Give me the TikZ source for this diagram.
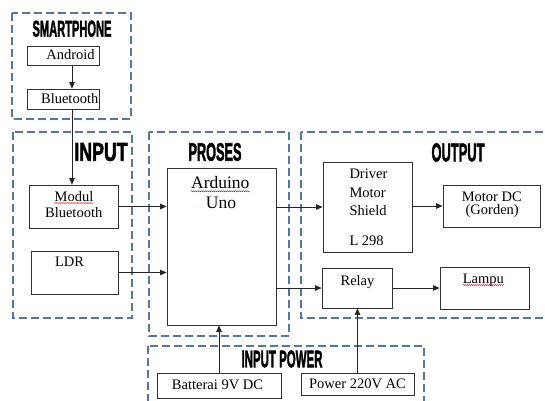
\documentclass[tikz,border=0pt]{standalone}
\usepackage{fontspec}
\setmainfont{Liberation Serif}
\newfontfamily\titlefont[FakeBold=2.5]{Liberation Sans Bold}
\usepackage{graphicx}
\usetikzlibrary{arrows.meta,decorations.pathmorphing}
\definecolor{dashblue}{RGB}{86,118,162}
\tikzset{
  grp/.style={draw=dashblue, line width=1.2pt, dash pattern=on 8pt off 4pt},
  blk/.style={draw=black!80, line width=0.8pt, rectangle, inner sep=0pt},
  txt/.style={font=\fontsize{14.5}{16}\selectfont, inner sep=0pt, anchor=base},
  bigtxt/.style={font=\fontsize{17.5}{20}\selectfont, inner sep=0pt, anchor=base},
  ttl/.style={inner sep=0pt, anchor=center},
  conn/.style={draw=black!85, line width=0.8pt, -{Triangle[length=6.5pt,width=5.5pt]}},
  squig/.style={draw=red, line width=0.4pt, decorate, decoration={snake, segment length=2pt, amplitude=0.6pt}}
}
\begin{document}
\begin{tikzpicture}[x=1pt,y=-1pt]
\useasboundingbox (0,0) rectangle (545,400);

% group frames
\draw[grp] (12,13) rectangle (131,119);
\draw[grp] (13,132) rectangle (132,318);
\draw[grp] (149,132) rectangle (289,336);
\draw[grp] (301,132) rectangle (548,318);
\draw[grp] (148,346) rectangle (424,405);

% titles
\node[ttl] (tsp) at (72,28.7) {\resizebox{79pt}{16pt}{\titlefont SMARTPHONE}};
\node[ttl] (tin) at (101,152) {\resizebox{53pt}{17.7pt}{\titlefont INPUT}};
\node[ttl] (tpr) at (215,152) {\resizebox{53pt}{17.7pt}{\titlefont PROSES}};
\node[ttl] (tout) at (458,152.5) {\resizebox{53pt}{18pt}{\titlefont OUTPUT}};
\node[ttl] (tip) at (282,359) {\resizebox{81pt}{16.7pt}{\titlefont INPUT POWER}};

% blocks
\node[blk, minimum width=72pt, minimum height=19pt] (an) at (63,55.5) {};
\node[blk, minimum width=72pt, minimum height=20pt] (bt) at (63,99) {};
\node[blk, minimum width=89pt, minimum height=43pt] (mb) at (73.5,206.5) {};
\node[blk, minimum width=87pt, minimum height=43pt] (ldr) at (74.5,272.5) {};
\node[blk, minimum width=109pt, minimum height=157pt] (ard) at (221.5,246.5) {};
\node[blk, minimum width=89pt, minimum height=90pt] (drv) at (367.5,207) {};
\node[blk, minimum width=97pt, minimum height=42pt] (mot) at (491.5,206) {};
\node[blk, minimum width=70pt, minimum height=40pt] (rel) at (357,288) {};
\node[blk, minimum width=89pt, minimum height=42pt] (lam) at (484.5,288) {};
\node[blk, minimum width=124pt, minimum height=25pt] (bat) at (219,385.5) {};
\node[blk, minimum width=113pt, minimum height=22pt] (pw) at (357.5,384) {};

% texts
\node[txt] (tan) at (70.5,59) {Android};
\node[txt] (tbt) at (69.7,103) {Bluetooth};
\node[txt] (tmb1) at (74,201) {Modul};
\node[txt] (tmb2) at (73.7,217) {Bluetooth};
\node[txt] (tldr) at (69.5,266) {LDR};
\node[bigtxt] (tard1) at (220.3,188.3) {Arduino};
\node[bigtxt] (tard2) at (221,208.3) {Uno};
\node[txt, anchor=base west] (tdrv1) at (349.3,178.3) {Driver};
\node[txt, anchor=base west] (tdrv2) at (349.3,197.7) {Motor};
\node[txt, anchor=base west] (tdrv3) at (349.3,215.7) {Shield};
\node[txt, anchor=base west] (tdrv4) at (349.3,245) {L 298};
\node[txt] (tmot1) at (491.8,201) {Motor DC};
\node[txt] (tmot2) at (492.2,214.5) {(Gorden)};
\node[txt] (trel) at (357.5,285) {Relay};
\node[txt] (tlam) at (483.3,283) {Lampu};
\node[txt] (tbat) at (217.5,389) {Batterai 9V DC};
\node[txt] (tpw) at (357.5,388) {Power 220V AC};

% spell-check marks
\draw[squig] ([yshift=-2pt]tmb1.base west) -- ([yshift=-2pt]tmb1.base east);
\draw[squig] ([yshift=-3pt]tard1.base west) -- ([yshift=-3pt]tard1.base east);
\draw[squig] ([yshift=-2pt]tlam.base west) -- ([yshift=-2pt]tlam.base east);

% connectors
\draw[conn] ([xshift=9pt]an.south) -- ([xshift=9pt]bt.north);
\draw[conn] ([xshift=9pt]bt.south) -- ([xshift=-1.5pt]mb.north);
\draw[conn] (mb.east) -- (mb.east -| ard.west);
\draw[conn] (ldr.east) -- (ldr.east -| ard.west);
\draw[conn] (ard.east |- drv.west) -- (drv.west);
\draw[conn] (drv.east |- mot.west) -- (mot.west);
\draw[conn] (ard.east |- rel.west) -- (rel.west);
\draw[conn] (rel.east) -- (lam.west);
\draw[conn] (bat.north) -- (bat.north |- ard.south);
\draw[conn] (pw.north) -- (pw.north |- rel.south);
\end{tikzpicture}
\end{document}
